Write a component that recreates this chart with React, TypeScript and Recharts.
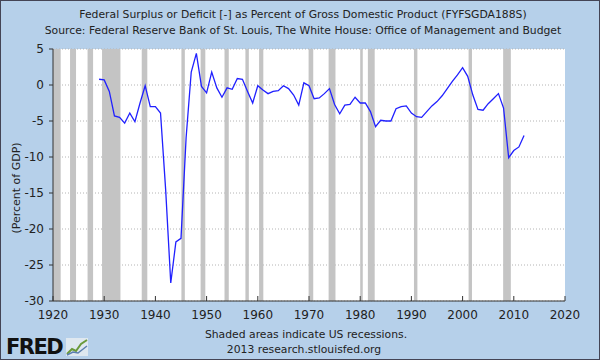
import React from "react"
import {
  LineChart,
  Line,
  XAxis,
  YAxis,
  CartesianGrid,
  ReferenceArea,
} from "recharts"

const years = [
  1929, 1930, 1931, 1932, 1933, 1934, 1935, 1936, 1937, 1938, 1939, 1940,
  1941, 1942, 1943, 1944, 1945, 1946, 1947, 1948, 1949, 1950, 1951, 1952,
  1953, 1954, 1955, 1956, 1957, 1958, 1959, 1960, 1961, 1962, 1963, 1964,
  1965, 1966, 1967, 1968, 1969, 1970, 1971, 1972, 1973, 1974, 1975, 1976,
  1977, 1978, 1979, 1980, 1981, 1982, 1983, 1984, 1985, 1986, 1987, 1988,
  1989, 1990, 1991, 1992, 1993, 1994, 1995, 1996, 1997, 1998, 1999, 2000,
  2001, 2002, 2003, 2004, 2005, 2006, 2007, 2008, 2009, 2010, 2011, 2012,
]

// surplus (+) / deficit (-) as % of GDP
const surplus = [
  0.8, 0.7, -0.9, -4.3, -4.5, -5.3, -3.9, -5.1, -2.5, -0.1, -3.0, -3.0,
  -3.9, -14.5, -27.5, -21.8, -21.3, -7.3, 1.8, 4.4, -0.2, -1.1, 1.8, -0.4,
  -1.7, -0.4, -0.6, 0.9, 0.8, -0.9, -2.5, -0.1, -0.7, -1.2, -0.9, -0.8,
  -0.1, -0.5, -1.4, -2.8, 0.3, -0.1, -1.9, -1.8, -1.2, -0.5, -2.7, -4.0,
  -2.8, -2.7, -1.7, -2.5, -2.5, -3.7, -5.8, -4.9, -5.0, -5.0, -3.3, -3.0,
  -2.9, -3.9, -4.4, -4.5, -3.7, -2.9, -2.3, -1.5, -0.5, 0.5, 1.4, 2.4,
  1.2, -1.4, -3.4, -3.5, -2.6, -1.9, -1.2, -3.2, -10.1, -9.1, -8.6, -7.0,
]

// NBER recessions, peak -> trough as fractional years
const recessionStart = [
  1920.0, 1923.33, 1926.75, 1929.58, 1937.33, 1945.08, 1948.83, 1953.5,
  1957.58, 1960.25, 1969.92, 1973.83, 1980.0, 1981.5, 1990.5, 2001.17, 2007.92,
]
const recessionEnd = [
  1921.5, 1924.5, 1927.83, 1933.17, 1938.42, 1945.75, 1949.75, 1954.33,
  1958.25, 1961.08, 1970.83, 1975.17, 1980.5, 1982.83, 1991.17, 2001.83, 2009.42,
]

const xTicks = [1920, 1930, 1940, 1950, 1960, 1970, 1980, 1990, 2000, 2010, 2020]
const yTicks = [-30, -25, -20, -15, -10, -5, 0, 5]

const data = years.map((y, i) => ({ year: y, value: surplus[i] }))

const FONT = "'DejaVu Sans', Verdana, sans-serif"
const TICK_GAP = 9

const XTick = (props: any) => {
  const { x, y, payload } = props
  return (
    <g>
      <line x1={x} x2={x} y1={y - TICK_GAP} y2={y - TICK_GAP - 5} stroke="#333" />
      <text x={x} y={y} dy="0.71em" textAnchor="middle" fontSize={12} fontFamily={FONT} fill="#222">
        {payload.value}
      </text>
    </g>
  )
}

const textStyle: React.CSSProperties = {
  position: "absolute",
  whiteSpace: "nowrap",
  fontFamily: FONT,
  fontSize: 10.8,
  color: "#222",
  transform: "translate(-50%, -50%)",
}

export default function App() {
  return (
    <div
      style={{
        position: "absolute",
        left: 0,
        top: 0,
        width: 600,
        height: 360,
        background: "#b6d0ea",
        border: "1px solid #445",
        boxSizing: "border-box",
        overflow: "hidden",
      }}
    >
      <div style={{ position: "absolute", left: -1, top: -1 }}>
        <LineChart width={600} height={360} data={data} margin={{ top: 49, right: 35, bottom: 34, left: 13 }}>
          <CartesianGrid fill="#ffffff" vertical={false} stroke="#b4b4b4" strokeDasharray="1 2" />
          {recessionStart.map((s, i) => (
            <ReferenceArea
              key={`rec-${i}`}
              x1={s}
              x2={recessionEnd[i]}
              fill="#c4c4c4"
              fillOpacity={1}
              stroke="none"
              ifOverflow="hidden"
            />
          ))}
          <XAxis
            dataKey="year"
            type="number"
            domain={[1920, 2020]}
            ticks={xTicks}
            height={25}
            tickSize={0}
            tickMargin={TICK_GAP}
            tick={<XTick />}
            stroke="#333"
            allowDataOverflow
          />
          <YAxis
            type="number"
            domain={[-30, 5]}
            ticks={yTicks}
            width={40}
            tickSize={4}
            tickMargin={5}
            stroke="#333"
            tick={{ fontSize: 12, fontFamily: FONT, fill: "#222" }}
            allowDataOverflow
          />
          <Line
            type="linear"
            dataKey="value"
            stroke="#2020ff"
            strokeWidth={1.3}
            dot={false}
            isAnimationActive={false}
          />
        </LineChart>
      </div>

      <div style={{ ...textStyle, left: 302, top: 13 }}>
        Federal Surplus or Deficit [-] as Percent of Gross Domestic Product (FYFSGDA188S)
      </div>
      <div style={{ ...textStyle, left: 302, top: 29 }}>
        Source: Federal Reserve Bank of St. Louis, The White House: Office of Management and Budget
      </div>
      <div
        style={{
          ...textStyle,
          fontSize: 11,
          left: 15,
          top: 187,
          transform: "translate(-50%, -50%) rotate(-90deg)",
        }}
      >
        (Percent of GDP)
      </div>
      <div style={{ ...textStyle, left: 305, top: 333 }}>Shaded areas indicate US recessions.</div>
      <div style={{ ...textStyle, left: 303, top: 348 }}>2013 research.stlouisfed.org</div>

      <div
        style={{
          position: "absolute",
          left: 5,
          top: 335,
          fontFamily: FONT,
          fontWeight: 900,
          fontSize: 21,
          letterSpacing: -1.5,
          color: "#111",
          lineHeight: "22px",
        }}
      >
        FRED
      </div>
      <svg style={{ position: "absolute", left: 65, top: 337 }} width={22} height={18}>
        <rect x={0} y={0} width={22} height={18} fill="#dfe8f0" />
        <polyline points="1,16 6,11 10,13 15,6 21,2" fill="none" stroke="#6a9a3a" strokeWidth={2} />
        <polyline points="1,17 7,14 12,15 21,8" fill="none" stroke="#5b7fb0" strokeWidth={1.5} />
      </svg>
    </div>
  )
}
